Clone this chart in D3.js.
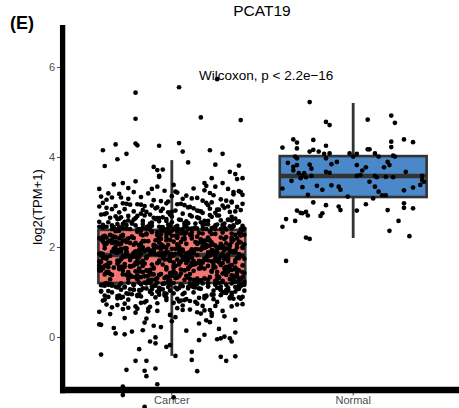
<!DOCTYPE html>
<html><head><meta charset="utf-8">
<script src="https://cdn.jsdelivr.net/npm/d3@7"></script>
<style>body{margin:0;background:#fff}svg{display:block}</style>
</head><body>
<script>
const categories = ["Cancer", "Normal"];
const boxFill = ["#f2766f", "#4a88c9"];
const boxQ1 = [1.20, 3.11];
const boxMedian = [1.82, 3.58];
const boxQ3 = [2.38, 4.02];
const whiskerLow = [-0.42, 2.20];
const whiskerHigh = [3.93, 5.20];
const yTicks = [0, 2, 4, 6];
const chartTitle = "PCAT19";
const panelTag = "(E)";
const yTitle = "log2(TPM+1)";
const testLabel = "Wilcoxon, p < 2.2e\u221216";

// [value, jitter (% of band step)]
const cancerPoints = [
[5.43,-20],[5.55,4],[5.73,25],[4.85,-20],[4.88,16],[4.82,38],[4.15,-38],[4.28,-31],[4.07,-25],[3.95,-30],
[4.30,-20],[4.26,-19],[4.25,-7],[4.31,4],[4.12,6],[3.88,9],[4.15,21],[4.07,28],[3.80,-37],[3.78,-10],
[3.71,-8],[3.72,-5],[3.58,-7],[3.83,24],[3.67,32],[3.62,35],[3.81,37],[3.53,22],[3.51,36],[3.53,39],
[3.56,-7],[3.29,-40],[3.39,-32],[3.42,-27],[3.31,-24],[3.46,-20],[3.29,-11],[3.34,-8],[3.38,1],[3.23,2],
[3.30,12],[3.42,18],[3.36,19],[3.34,24],[3.42,28],[3.29,31],[3.22,34],[3.22,38],
[3.05,-36],[3.18,-29],[3.11,-17],[3.02,-6],[3.21,3],[3.09,14],[3.15,23],[3.03,30],[3.24,37],[3.12,-39],
[3.07,-24],[3.19,-13],[3.01,-2],[3.14,8],[3.26,18],[3.06,27],[3.17,34],[3.10,-33],[3.22,-21],[3.04,-10],
[3.13,0],[3.08,11],[3.20,21],[3.01,33],[3.16,39],[3.10,-28],[3.03,17],[3.25,-4],[3.07,6],[3.19,-35],
[2.98,-38],[2.91,-31],[2.84,-26],[2.95,-19],[2.78,-14],[2.88,-8],[2.97,-3],[2.81,2],[2.93,7],[2.86,12],
[2.76,17],[2.99,22],[2.83,26],[2.90,31],[2.79,35],[2.96,39],[2.87,-36],[2.77,-29],[2.94,-23],[2.82,-16],
[2.92,-11],[2.85,-5],[2.78,0],[2.96,5],[2.89,10],[2.80,15],[2.93,20],[2.76,24],[2.87,29],[2.99,33],
[2.82,38],[2.90,-40],[2.84,-33],[2.97,-27],[2.79,-21],[2.91,-15],[2.86,-9],[2.77,-2],[2.95,3],[2.88,9],
[2.81,14],[2.98,19],[2.83,25],[2.92,28],[2.78,32],[2.89,36],[2.94,-17],[2.80,-6],[2.85,21],[2.96,-25],
[2.72,-39],[2.55,-35],[2.44,-32],[2.66,-28],[2.49,-25],[2.61,-21],[2.40,-18],[2.70,-15],[2.52,-12],[2.63,-9],
[2.43,-6],[2.58,-3],[2.68,0],[2.47,3],[2.74,6],[2.53,9],[2.41,12],[2.64,15],[2.50,18],[2.71,21],
[2.45,24],[2.59,27],[2.39,30],[2.67,33],[2.54,36],[2.42,39],[2.73,-37],[2.48,-33],[2.62,-30],[2.56,-26],
[2.40,-23],[2.69,-19],[2.51,-16],[2.46,-13],[2.65,-10],[2.57,-7],[2.39,-4],[2.72,-1],[2.44,2],[2.60,5],
[2.53,8],[2.41,11],[2.66,14],[2.49,17],[2.58,20],[2.43,23],[2.70,26],[2.52,29],[2.46,32],[2.63,35],
[2.40,38],[2.56,-40],[2.45,-36],[2.68,-31],[2.42,-27],[2.59,-24],[2.48,-20],[2.74,-17],[2.41,-14],[2.54,-11],
[2.64,-8],[2.44,-5],[2.50,-2],[2.39,1],[2.61,4],[2.47,7],[2.71,10],[2.43,13],[2.55,16],[2.40,19],
[2.67,22],[2.50,25],[2.42,28],[2.60,31],[2.46,34],[2.57,37],[2.41,40],[2.65,-34],[2.44,-29],[2.52,-22],
[2.39,-12],[2.62,-3],[2.45,8],[2.58,18],[2.40,27],[2.49,-38],[2.69,-24],[2.43,-16],[2.55,0],[2.41,14],
[2.48,24],[2.64,-7],[2.42,33],[2.51,-30],[2.40,6],
[2.43,-38],[2.51,-27],[2.39,-19],[2.62,-9],[2.46,-1],[2.57,8],[2.41,17],[2.70,25],[2.48,34],[2.40,-33],
[2.55,-22],[2.44,-14],[2.66,-5],[2.39,4],[2.52,13],[2.42,22],[2.61,31],[2.47,39],[2.75,-36],[2.41,-25],
[2.58,-16],[2.45,-7],[2.40,2],[2.68,11],[2.50,20],[2.43,29],[2.56,37],[2.39,-30],[2.64,-20],[2.47,-11],
[2.42,-2],[2.53,7],[2.79,16],[2.40,24],[2.59,33],[2.45,-40],[2.72,-12],[2.41,9],[2.49,28],[2.63,-29],
[1.85,-40],[2.12,-31],[1.34,-22],[2.30,-14],[1.61,-5],[1.97,3],[1.27,12],[2.21,20],[1.73,29],[1.48,37],
[2.05,-37],[1.56,-28],[2.34,-19],[1.39,-11],[1.88,-2],[2.17,7],[1.66,15],[1.25,24],[1.93,32],[2.27,40],
[1.44,-35],[1.79,-26],[2.08,-17],[1.31,-8],[2.25,0],[1.70,9],[1.52,18],[2.00,26],[1.36,34],[1.82,-39],
[2.15,-33],[1.29,-24],[1.91,-15],[2.37,-6],[1.58,2],[1.76,11],[2.03,19],[1.41,28],[2.19,36],[1.63,-30],
[1.87,-21],[1.23,-12],[2.29,-3],[1.50,5],[1.95,14],[2.10,22],[1.68,31],[1.33,39],[2.23,-38],[1.80,-27],
[1.46,-18],[2.01,-9],[1.74,-1],[2.32,8],[1.26,16],[1.89,25],[1.60,33],[2.14,-34],[1.38,-25],[1.99,-16],
[2.24,-7],[1.54,1],[1.83,10],[1.30,18],[2.07,27],[1.71,35],[1.45,-36],[2.36,-29],[1.78,-20],[1.92,-11],
[1.24,-2],[2.18,6],[1.65,15],[1.86,23],[2.04,32],[1.42,40],[1.96,-32],[1.57,-23],[2.28,-14],[1.72,-4],
[1.35,4],[2.11,13],[1.81,21],[1.49,30],[2.26,38],[1.67,-39],[1.90,-28],[1.28,-19],[2.02,-10],[1.77,-1],
[2.20,7],[1.53,16],[1.84,24],[1.37,33],[2.09,-37],[1.62,-26],[1.94,-17],[2.33,-8],[1.43,0],[1.75,9],
[1.98,17],[1.32,26],[2.16,34],[1.59,-40],[1.88,-31],[2.22,-22],[1.47,-13],[1.81,-5],[2.06,3],[1.69,12],
[1.27,20],[1.93,29],[2.31,37],[1.55,-35],[1.79,-24],[2.13,-15],[1.40,-6],[1.85,2],[1.64,11],[2.00,19],
[1.22,28],[1.76,36],[2.19,-38],[1.51,-29],[1.90,-20],[2.35,-11],[1.34,-3],[1.72,6],[2.08,14],[1.60,23],
[1.83,31],[1.44,39],[2.25,-33],[1.97,-25],[1.58,-16],[1.82,-7],[2.12,1],[1.29,10],[1.74,18],[2.03,27],
[1.66,35],[1.39,-37],[2.27,-27],[1.87,-18],[1.52,-10],[2.16,-1],[1.78,8],[1.25,16],[1.95,25],[2.21,33],
[1.48,-39],[1.70,-30],[2.05,-21],[1.91,-12],[1.31,-4],[2.30,5],[1.63,13],[1.84,22],[1.42,30],[2.10,38],
[1.77,-36],[1.56,-26],[2.37,-17],[1.99,-8],[1.36,0],[1.80,9],[2.14,17],[1.67,26],[1.26,34],[1.92,-31],
[2.23,-22],[1.46,-13],[1.86,-5],[2.01,4],[1.61,12],[1.33,21],[2.18,29],[1.75,37],[1.53,-38],[2.07,-28],
[1.89,-19],[1.28,-9],[2.32,-1],[1.73,8],[1.94,16],[1.45,25],[2.11,33],[1.65,-34],[1.82,-25],[2.26,-16],
[1.38,-7],[1.96,2],[1.57,10],[2.04,19],[1.79,27],[1.23,35],[2.20,-40],[1.68,-29],[1.90,-20],[1.49,-12],
[2.15,-3],[1.84,5],[1.30,14],[2.29,22],[1.71,31],[1.98,39],[1.54,-32],[2.09,-23],[1.78,-14],[1.40,-6],
[2.34,3],[1.62,11],[1.88,20],[2.02,28],[1.35,36],[1.76,-37],[2.24,-27],[1.51,-18],[1.93,-10],[1.69,-1],
[1.27,7],[2.17,16],[1.83,24],[1.58,32],[2.06,40],[1.43,-35],[1.97,-26],[2.28,-17],[1.64,-8],[1.81,0],
[1.32,9],[2.13,18],[1.74,26],[1.91,34],[1.55,-39],[2.36,-30],[1.86,-21],[1.24,-12],[2.00,-4],[1.67,5],
[1.95,13],[1.47,22],[2.22,30],[1.80,38],[1.60,-36],[2.08,-28],[1.37,-19],[1.87,-10],[2.31,-2],[1.72,7],
[1.52,15],[2.03,24],[1.29,32],[1.90,-33],[2.19,-24],[1.63,-15],[1.85,-6],[1.41,2],[2.25,11],[1.77,19],
[1.99,28],[1.34,36],[2.12,-38],[1.69,-29],[1.82,-20],[2.33,-11],[1.50,-3],[1.94,6],[1.26,14],[2.05,23],
[1.75,31],[1.59,39],[2.27,-34],[1.88,-25],[1.44,-16],[2.10,-7],[1.66,1],[1.83,10],[1.30,18],[2.21,27],
[1.92,35],[1.48,-40],[2.01,-31],[1.78,-22],[1.36,-13],[2.35,-5],[1.61,4],[1.86,12],[2.14,21],[1.53,29],
[1.25,37],[1.97,-37],[2.24,-28],[1.70,-19],[1.84,-9],[1.42,-1],[2.07,8],[1.57,16],[1.89,25],[2.30,33],
[1.64,-35],[1.79,-26],[1.33,-17],[2.16,-8],[1.96,0],[1.51,9],[2.02,17],[1.73,26],[1.28,34],[1.87,-30],
[2.20,-21],[1.45,-12],[1.81,-4],[2.11,5],[1.62,13],[1.93,22],[1.38,30],[2.26,38],[1.76,-38],[1.56,-27],
[2.04,-18],[1.85,-10],[1.22,-1],[2.29,7],[1.68,16],[1.91,24],[1.49,33],[2.09,-33],[1.80,-24],[1.35,-15],
[2.18,-6],[1.72,3],[1.95,11],[1.58,20],[2.32,28],[1.43,36],[1.86,-39],[2.06,-29],[1.65,-20],[1.27,-11],
[1.98,-3],[1.77,6],[2.23,14],[1.54,23],[1.83,31],[2.37,39],[1.40,-34],[1.90,-25],[2.13,-16],[1.67,-7],
[1.31,2],[1.89,10],[2.00,19],[1.60,27],[2.27,35],[1.74,-36],[1.47,-27],[1.94,-18],[2.15,-9],[1.82,-1],
[1.36,8],[2.08,17],[1.69,25],[1.88,34],[1.52,-40],[2.22,-31],[1.79,-22],[1.26,-13],[2.03,-5],[1.63,4],
[1.92,12],[2.34,21],[1.44,29],[1.84,37],[2.10,-32],[1.57,-23],[1.75,-14],[1.99,-6],[1.32,3],[2.19,11],
[1.70,20],[1.86,28],[1.50,36],[2.25,-37],[1.96,-28],[1.62,-19],[1.39,-10],[2.05,-2],[1.78,7],[2.31,15],
[1.55,24],[1.91,32],[1.23,40],[2.12,-35],[1.81,-26],[1.66,-17],[2.28,-8],[1.46,1],[1.87,9],[2.01,18],
[1.73,26],[1.35,34],[2.17,-39],[1.93,-30],[1.59,-21],[1.84,-12],[2.36,-3],[1.41,5],[2.07,14],[1.68,22],
[1.97,30],[1.29,38],[2.21,-36],[1.77,-27],[1.52,-18],[2.02,-9],[1.85,0],[1.64,8],[2.30,17],[1.37,25],
[1.90,33],[2.14,-33],[1.71,-23],[1.48,-14],[1.95,-6],[2.24,3],[1.60,11],[1.83,20],[1.25,28],[2.06,36],
[1.78,-38],[1.56,-29],[2.09,-20],[1.88,-11],[1.33,-2],[2.33,6],[1.69,15],[1.92,23],[1.45,31],[2.00,39],
[1.80,-34],[2.16,-25],[1.62,-16],[1.86,-7],[1.42,2],[2.27,10],[1.75,19],[1.98,27],[1.54,35],[1.89,-3],
[1.58,-37],[2.09,-30],[1.83,-21],[1.35,-15],[2.26,-8],[1.72,-2],[1.94,5],[1.47,12],[2.15,19],[1.66,26],
[1.90,33],[2.31,38],[1.28,-34],[1.79,-26],[2.04,-18],[1.61,-11],[1.87,-4],[2.20,3],[1.40,10],[1.97,17],
[1.75,24],[1.52,31],[2.12,37],[1.83,-39],[2.35,-31],[1.44,-24],[1.69,-16],[2.01,-9],[1.26,-1],[1.91,6],
[1.63,13],[2.18,20],[1.81,27],[1.50,35],[2.07,-36],[1.73,-28],[1.33,-20],[1.96,-13],[2.28,-6],[1.59,1],
[1.86,8],[2.10,15],[1.45,22],[1.78,29],[1.99,36],[1.68,-40],[2.23,-32],[1.37,-23],[1.85,-17],[2.05,-10],
[1.55,-3],[1.92,4],[2.33,11],[1.71,18],[1.29,25],[2.02,32],[1.80,39],[1.62,-35],[2.14,-27],[1.88,-19],
[1.43,-12],[1.76,-5],[2.25,2],[1.53,9],[1.95,16],[1.67,23],[2.08,30],[1.24,37],[1.84,-38],[2.19,-29],
[1.57,-22],[1.93,-14],[1.70,-7],[2.36,0],[1.48,7],[1.82,14],[2.03,21],[1.64,28],[1.89,35],[1.38,-33],
[2.11,-25],[1.77,-18],[1.54,-10],[2.22,-3],[1.86,4],[1.60,11],[1.98,18],[1.32,26],[2.16,33],[1.74,40],
[1.91,-30],[1.46,-20],[2.06,-6],[1.81,1],[1.65,17],[2.29,24],[1.39,-27],[1.87,12],[2.13,-13],[1.56,30],
[1.15,-38],[0.92,-29],[1.05,-21],[0.63,-13],[1.19,-4],[0.81,5],[1.10,13],[0.47,22],[0.98,30],[1.13,38],
[1.02,-35],[0.74,-26],[1.17,-17],[0.88,-9],[0.35,0],[1.08,9],[0.69,17],[1.20,26],[0.85,34],[0.56,-40],
[1.12,-31],[0.95,-22],[0.41,-14],[1.06,-5],[0.79,4],[1.18,12],[0.60,21],[0.99,29],[1.14,37],[0.72,-36],
[0.89,-27],[1.04,-18],[0.25,-10],[1.16,-1],[0.84,8],[0.52,16],[1.09,25],[0.93,33],[0.66,-33],[1.21,-24],
[0.77,-15],[1.01,-7],[0.44,2],[1.13,11],[0.90,19],[0.58,28],[1.07,36],[0.81,-38],[1.19,-28],[0.63,-19],
[0.96,-11],[1.11,-2],[0.70,6],[0.30,15],[1.03,23],[0.86,32],[1.16,40],[0.51,-34],[0.97,-25],[1.08,-16],
[0.75,-8],[1.20,1],[0.61,10],[0.91,18],[1.05,27],[0.38,35],[0.83,-37],[1.14,-29],[0.68,-20],[1.00,-12],
[0.87,-3],[1.17,5],[0.55,14],[0.94,22],[1.10,31],[0.73,39],[0.20,-32],[1.06,-23],[0.80,-14],[1.18,-5],
[0.64,3],[0.99,12],[1.12,20],[0.46,29],[0.88,37],[1.02,-39],[0.71,-30],[1.15,-21],[0.57,-13],[0.92,-4],
[1.09,4],[0.78,13],[0.33,21],[1.04,30],[0.85,38],[1.20,-36],[0.62,-27],[0.95,-18],[1.13,-10],[0.49,-1],
[0.82,7],[1.07,16],[0.69,24],[0.98,33],[1.16,-35],[0.42,-26],[0.90,-17],[1.01,-8],[0.76,1],[1.19,10],
[0.59,18],[0.93,27],[1.11,35],[0.27,-39],[0.86,-30],[1.05,-21],[0.67,-12],[0.97,-4],[1.15,5],[0.74,14],
[0.53,22],[1.03,31],[0.89,39],[1.17,-33],[0.65,-24],[0.15,-16],[0.94,-7],[1.10,2],[0.80,10],[0.37,19],
[1.00,28],[0.72,36],[1.14,-37],[0.87,-28],[0.54,-20],[1.06,-11],[0.96,-3],[0.60,6],[1.18,14],[0.84,23],
[0.08,-31],[0.12,-22],[0.05,18],[0.18,26],[0.22,-6],[0.10,35],[0.28,-40],[0.14,8],[0.32,-15],[0.06,-26],
[1.21,-18],[1.09,-7],[1.15,12],[1.04,27],[1.19,33],[1.12,-26],[1.06,3],[1.17,-34],[1.13,20],[1.08,-14],
[1.01,-39],[0.91,-19],[1.14,-9],[0.78,25],[1.19,17],[0.99,-33],[1.07,37],[0.83,-24],[1.16,30],[0.95,6],
[1.10,-30],[0.87,15],[1.20,-12],[0.68,33],[1.03,-1],[0.92,-37],[1.18,24],[0.76,-17],[1.11,9],[0.58,-8],
[1.18,-37],[1.05,-28],[0.93,-19],[1.12,-11],[1.20,-2],[0.98,7],[1.08,15],[1.16,24],[0.88,32],[1.03,40],
[1.14,-33],[0.96,-24],[1.21,-15],[1.07,-6],[0.85,3],[1.11,12],[1.19,20],[0.99,29],[1.09,37],[1.15,-39],
[0.91,-30],[1.17,-21],[1.02,-12],[0.82,-3],[1.13,6],[1.20,14],[0.94,23],[1.06,31],[1.18,39],[0.89,-35],
[1.10,-26],[1.04,-17],[1.21,-8],[0.97,1],[1.15,10],[0.86,18],[1.12,27],[1.01,35],[1.19,-14],[0.92,19],
[-0.39,-39],[-0.27,-18],[-0.10,-12],[-0.14,-9],[-0.01,-9],[-0.53,-20],[-0.53,-14],[-0.22,-3],[-0.18,-1],[-0.42,2],
[-0.33,11],[-0.51,11],[-0.07,15],[-0.44,27],[-0.53,30],[-0.43,35],[-0.73,-25],[-0.75,-15],[-0.70,-9],[-0.87,-14],
[-0.76,14],[-1.05,-8],[-1.10,-27],[-1.29,-27],[-1.34,1],[-1.55,-15],[-0.05,25],[-0.03,27],[0.01,29],[-0.10,33],
[-0.03,32]
];

const normalPoints = [
[5.22,-24],[4.78,-15],[4.71,-13],[4.83,8],[4.92,21],[4.76,23],[4.21,-39],[4.39,-33],[4.32,-31],[4.19,-31],
[4.38,-22],[4.25,-15],[4.12,-24],[4.16,-22],[4.12,-19],[4.07,-16],[4.08,-13],[4.08,-2],[4.01,0],[4.07,2],
[4.17,8],[4.17,9],[4.08,12],[4.01,14],[4.34,21],[4.22,21],[4.39,28],[4.33,33],[4.03,22],[4.01,23],
[4.01,-32],[3.97,-31],[3.87,-36],[3.78,-33],[3.70,-33],[3.82,-31],[3.83,-24],[3.74,-23],[3.97,-15],[3.84,-12],
[3.89,-9],[3.67,-15],[3.65,-13],[3.64,-30],[3.58,-28],[3.64,-27],[3.53,-29],[3.55,-26],[3.58,-23],[3.47,-34],
[3.30,-39],[3.33,-28],[3.36,-20],[3.27,-17],[3.37,-12],[3.34,-8],[3.27,-7],[3.16,-25],[3.82,2],[3.70,5],
[3.77,7],[3.58,2],[3.60,4],[3.12,-3],[3.08,11],[3.45,9],[3.34,12],[3.23,14],[3.15,16],[3.15,18],
[3.58,12],[3.55,13],[3.56,18],[3.55,22],[3.89,19],[3.82,20],[3.77,17],[3.67,29],[3.58,38],[3.49,38],
[3.45,39],[3.38,37],[3.32,33],[3.26,28],[2.99,-22],[2.93,-15],[2.90,-8],[2.82,-7],[2.81,2],[2.95,7],
[2.81,-31],[2.76,-29],[2.75,-28],[2.78,-26],[2.70,-25],[2.75,-17],[2.69,-18],[2.62,-37],[2.45,-39],[2.58,-32],
[2.21,-26],[2.18,-24],[2.82,19],[2.58,25],[2.36,20],[2.97,28],[2.87,28],[2.86,33],[2.24,31],[1.69,-37]
];

const seriesPoints = [cancerPoints, normalPoints];

const W = 459, H = 408;
const FONT = "'Liberation Sans', Arial, Helvetica, sans-serif";
const svg = d3.select("body").append("svg").attr("width", W).attr("height", H)
  .style("font-family", FONT);

const x = d3.scaleBand().domain(categories).range([63, 462]).paddingInner(0).paddingOuter(0.1);
const y = d3.scaleLinear().domain([-1.178, 6.933]).range([390, 25]);
const step = x.step();
const cx = c => x(c) + x.bandwidth() / 2;
const boxW = step * 0.81;

// axis ticks + labels
const yAxis = svg.append("g").attr("transform", "translate(60,0)")
  .call(d3.axisLeft(y).tickValues(yTicks).tickSize(3).tickPadding(2).tickFormat(d3.format("d")));
yAxis.select(".domain").remove();
yAxis.selectAll("line").attr("stroke", "#4d4d4d");
yAxis.selectAll("text").attr("fill", "#4d4d4d").style("font-size", "11px").style("font-family", FONT);

const xAxis = svg.append("g").attr("transform", "translate(0,390.5)")
  .call(d3.axisBottom(x).tickSize(5).tickPadding(1));
xAxis.select(".domain").remove();
xAxis.selectAll("line").attr("stroke", "#4d4d4d");
xAxis.selectAll("text").attr("fill", "#4d4d4d").style("font-size", "11px").style("font-family", FONT);

// thick axis lines
svg.append("line").attr("x1", 62.6).attr("x2", 62.6).attr("y1", 25).attr("y2", 393.3)
  .attr("stroke", "#000").attr("stroke-width", 5.3);
svg.append("line").attr("x1", 60).attr("x2", W).attr("y1", 390).attr("y2", 390)
  .attr("stroke", "#000").attr("stroke-width", 6.5);

// boxplots
const boxes = svg.append("g");
categories.forEach((c, i) => {
  const g = boxes.append("g");
  const xc = cx(c);
  g.append("line").attr("x1", xc).attr("x2", xc).attr("y1", y(whiskerHigh[i])).attr("y2", y(boxQ3[i]))
    .attr("stroke", "#333").attr("stroke-width", 2.8);
  g.append("line").attr("x1", xc).attr("x2", xc).attr("y1", y(boxQ1[i])).attr("y2", y(whiskerLow[i]))
    .attr("stroke", "#333").attr("stroke-width", 2.8);
  g.append("rect").attr("x", xc - boxW / 2).attr("width", boxW)
    .attr("y", y(boxQ3[i])).attr("height", y(boxQ1[i]) - y(boxQ3[i]))
    .attr("fill", boxFill[i]).attr("stroke", "#333").attr("stroke-width", 2.6);
  g.append("line").attr("x1", xc - boxW / 2).attr("x2", xc + boxW / 2)
    .attr("y1", y(boxMedian[i])).attr("y2", y(boxMedian[i]))
    .attr("stroke", "#333").attr("stroke-width", 4.5);
});

// jittered points
categories.forEach((c, i) => {
  svg.append("g").selectAll("circle").data(seriesPoints[i]).join("circle")
    .attr("cx", d => cx(c) + d[1] / 100 * step)
    .attr("cy", d => y(d[0]))
    .attr("r", 2.35).attr("fill", "#000");
});

// texts
svg.append("text").attr("x", 262).attr("y", 15.5).attr("text-anchor", "middle")
  .style("font-size", "15.5px").attr("fill", "#000").text(chartTitle);
svg.append("text").attr("x", 10).attr("y", 28.5)
  .style("font-size", "18px").style("font-weight", "bold").attr("fill", "#000").text(panelTag);
svg.append("text").attr("x", 199).attr("y", 80)
  .style("font-size", "13.5px").attr("fill", "#000").text(testLabel);
svg.append("text").attr("transform", "translate(42,207) rotate(-90)").attr("text-anchor", "middle")
  .style("font-size", "13px").attr("fill", "#000").text(yTitle);
</script>
</body></html>
